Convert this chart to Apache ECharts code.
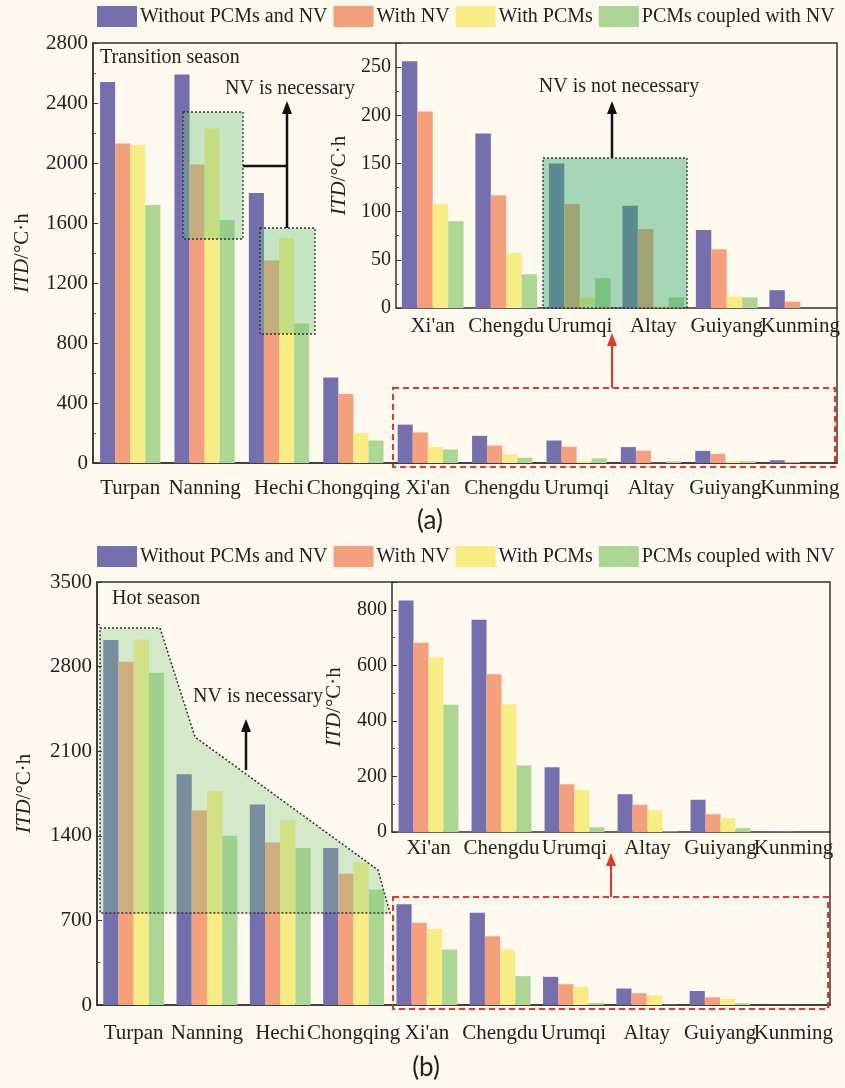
<!DOCTYPE html>
<html>
<head>
<meta charset="utf-8">
<script src="https://cdn.jsdelivr.net/npm/echarts/dist/echarts.min.js"></script>
<style>
  html, body { margin: 0; padding: 0; background: #fdf9ee; }
  #chart { width: 845px; height: 1088px; }
</style>
</head>
<body>
<div id="chart"></div>
<script>
// Scenario names (legend) and city categories
const scenarioNames = ['Without PCMs and NV', 'With NV', 'With PCMs', 'PCMs coupled with NV'];
const allCities = ['Turpan', 'Nanning', 'Hechi', 'Chongqing', "Xi'an", 'Chengdu', 'Urumqi', 'Altay', 'Guiyang', 'Kunming'];
const coolCities = ["Xi'an", 'Chengdu', 'Urumqi', 'Altay', 'Guiyang', 'Kunming'];

// ITD (°C·h), transition season
const transWithout = [2540, 2590, 1800, 570, 256, 181, 150, 106, 81, 18.5];
const transNV      = [2130, 1990, 1350, 460, 204, 117, 108, 82, 61, 6.5];
const transPCM     = [2120, 2230, 1500, 200, 108, 57, 11, 1, 12, 0];
const transBoth    = [1720, 1620, 930, 150, 90, 35, 31, 11, 11, 0];

// ITD (°C·h), hot season
const hotWithout = [3020, 1910, 1660, 1300, 833, 764, 233, 136, 116, 2];
const hotNV      = [2840, 1610, 1345, 1085, 681, 568, 172, 98, 64, 1];
const hotPCM     = [3025, 1770, 1530, 1180, 629, 460, 151, 78, 50, 0];
const hotBoth    = [2750, 1400, 1300, 955, 458, 239, 17, 2, 14, 0];

// Value-axis ranges: [max, interval]
const transMainAxis = [2800, 400];
const transZoomAxis = [275, 50];
const hotMainAxis = [3500, 700];
const hotZoomAxis = [900, 200];

const palette = ['#7570ad', '#f5a07d', '#f8ed84', '#acd693'];
const SERIF = '"Liberation Serif", "Times New Roman", serif';
const INK = '#222';

const transSets = [transWithout, transNV, transPCM, transBoth];
const hotSets = [hotWithout, hotNV, hotPCM, hotBoth];
const firstCool = allCities.indexOf(coolCities[0]);

function valueAxis(grid, range, nameGap, labelSize) {
  return {
    type: 'value', gridIndex: grid, min: 0, max: range[0], interval: range[1],
    name: '{i|ITD}/°C·h', nameLocation: 'middle', nameGap: nameGap,
    nameTextStyle: { fontFamily: SERIF, fontSize: 21, color: INK,
      rich: { i: { fontFamily: SERIF, fontSize: 21, fontStyle: 'italic', color: INK } } },
    axisLine: { show: true, lineStyle: { color: '#333', width: 1.5 } },
    axisTick: { show: true, inside: true, length: 5, lineStyle: { color: '#333' } },
    minorTick: { show: true, splitNumber: 2, length: 3, lineStyle: { color: '#555' } },
    splitLine: { show: false },
    axisLabel: { fontFamily: SERIF, fontSize: labelSize, color: INK, margin: 5,
      formatter: v => String(v),
      showMaxLabel: range[0] % range[1] === 0 }
  };
}

function categoryAxis(grid, cats, margin) {
  return {
    type: 'category', gridIndex: grid, data: cats,
    axisLine: { show: true, lineStyle: { color: '#333', width: 1.5 } },
    axisTick: { show: false },
    axisLabel: { interval: 0, fontFamily: SERIF, fontSize: 21, color: INK, margin: margin }
  };
}

function barSeries(grid, sets, from, gap) {
  return sets.map((vals, k) => ({
    name: scenarioNames[k], type: 'bar', xAxisIndex: grid, yAxisIndex: grid,
    data: vals.slice(from), barGap: '0%', barCategoryGap: gap,
    itemStyle: { color: palette[k] }, z: 2
  }));
}

function legend(top) {
  return {
    data: scenarioNames, left: 97, top: top, width: 800, itemWidth: 40, itemHeight: 21, itemGap: 6,
    padding: 0, icon: 'rect', selectedMode: false,
    textStyle: { fontFamily: SERIF, fontSize: 20, color: INK, padding: [0, 0, 0, -2] }
  };
}

function arrow(x, yFrom, yTip, color, w) {
  return [
    { type: 'line', z: 100, shape: { x1: x, y1: yFrom, x2: x, y2: yTip + 10 },
      style: { stroke: color, lineWidth: w } },
    { type: 'polygon', z: 100, shape: { points: [[x, yTip], [x - 5, yTip + 13], [x + 5, yTip + 13]] },
      style: { fill: color } }
  ];
}

function label(text, x, y, align, extra) {
  return Object.assign({ type: 'text', z: 100, x: x, y: y,
    style: { text: text, fontFamily: SERIF, fontSize: 20, fill: INK, align: align, verticalAlign: 'middle' } }, extra || {});
}

const dotted = { stroke: '#333', lineWidth: 1.3, lineDash: [2, 2] };
const redDash = { stroke: '#e8342a', lineWidth: 2, lineDash: [6, 4], fill: 'none' };

const annotations = [
  // (a) transition season
  label('Transition season', 100, 58, 'left'),
  { type: 'rect', z: 100, shape: { x: 183, y: 112, width: 60, height: 127 },
    style: Object.assign({ fill: 'rgba(110,195,125,0.38)' }, dotted) },
  { type: 'rect', z: 100, shape: { x: 260, y: 228, width: 55, height: 106 },
    style: Object.assign({ fill: 'rgba(110,195,125,0.38)' }, dotted) },
  { type: 'line', z: 100, shape: { x1: 243, y1: 166, x2: 287, y2: 166 }, style: { stroke: '#111', lineWidth: 2.5 } },
  ...arrow(287, 228, 101, '#111', 2.5),
  label('NV is necessary', 290, 89, 'center'),
  { type: 'rect', z: 100, shape: { x: 543, y: 158, width: 144, height: 150 },
    style: Object.assign({ fill: 'rgba(60,170,110,0.45)' }, dotted) },
  ...arrow(612, 158, 101, '#111', 2.5),
  label('NV is not necessary', 619, 87, 'center'),
  { type: 'rect', z: 100, shape: { x: 393, y: 388, width: 442, height: 79 }, style: redDash },
  ...arrow(612, 388, 333, '#e8342a', 2),
  { type: 'text', z: 100, x: 430, y: 521,
    style: { text: '(a)', fontFamily: 'Lato, "Open Sans", sans-serif', fontSize: 26, fill: INK, align: 'center', verticalAlign: 'middle' } },

  // (b) hot season
  label('Hot season', 112, 599, 'left'),
  { type: 'polygon', z: 100,
    shape: { points: [[100, 628], [160, 628], [195, 737], [378, 870], [390, 913], [100, 913]] },
    style: { fill: 'rgba(130,200,130,0.33)', stroke: '#333', lineWidth: 1.5, lineDash: [2, 2] } },
  ...arrow(246, 770, 719, '#111', 2.5),
  label('NV is necessary', 258, 697, 'center'),
  { type: 'rect', z: 100, shape: { x: 393, y: 897, width: 435, height: 112 }, style: redDash },
  ...arrow(611, 897, 853, '#e8342a', 2),
  { type: 'text', z: 100, x: 426, y: 1068,
    style: { text: '(b)', fontFamily: 'Lato, "Open Sans", sans-serif', fontSize: 26, fill: INK, align: 'center', verticalAlign: 'middle' } }
];

const chart = echarts.init(document.getElementById('chart'), null, { renderer: 'canvas' });
chart.setOption({
  backgroundColor: '#fdf9ee',
  animation: false,
  legend: [legend(6), legend(546)],
  grid: [
    { left: 93, top: 43, width: 744, height: 420, show: true, borderColor: '#333', borderWidth: 1.5, backgroundColor: 'transparent' },
    { left: 396, top: 43, width: 441, height: 265, show: false },
    { left: 97, top: 582, width: 733, height: 423, show: true, borderColor: '#333', borderWidth: 1.5, backgroundColor: 'transparent' },
    { left: 392, top: 582, width: 438, height: 250, show: false }
  ],
  xAxis: [
    categoryAxis(0, allCities, 15),
    categoryAxis(1, coolCities, 8),
    categoryAxis(2, allCities, 18),
    categoryAxis(3, coolCities, 6)
  ],
  yAxis: [
    valueAxis(0, transMainAxis, 60, 21),
    valueAxis(1, transZoomAxis, 40, 20),
    valueAxis(2, hotMainAxis, 62, 21),
    valueAxis(3, hotZoomAxis, 47, 20)
  ],
  series: [
    ...barSeries(0, transSets, 0, '19%'),
    ...barSeries(1, transSets, firstCool, '16%'),
    ...barSeries(2, hotSets, 0, '17%'),
    ...barSeries(3, hotSets, firstCool, '18%')
  ],
  graphic: annotations
});
</script>
</body>
</html>
